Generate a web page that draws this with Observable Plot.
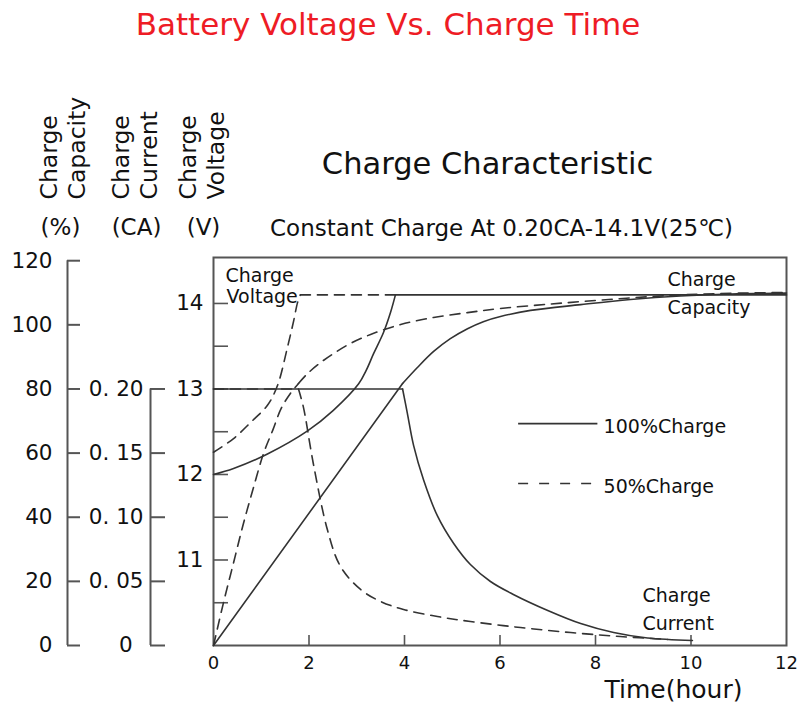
<!DOCTYPE html>
<html>
<head>
<meta charset="utf-8">
<script src="https://cdn.jsdelivr.net/npm/d3@7"></script>
<script src="https://cdn.jsdelivr.net/npm/@observablehq/plot@0.6"></script>
<style>
  body { margin: 0; background: #fff; font-family: "DejaVu Sans", sans-serif; }
  #title { width: 806px; height: 50px; line-height: 48px; text-align: center; font-size: 31px;
           color: #ee1c25; padding-right: 30px; box-sizing: border-box; white-space: nowrap; }
  #chart svg { overflow: visible; display: block; }
</style>
</head>
<body>
<div id="title">Battery Voltage Vs. Charge Time</div>
<div id="chart"></div>
<script>
// ---------- tick values / labels ----------
const hourTicks = [0, 2, 4, 6, 8, 10, 12];
const innerHourTicks = [2, 4, 6, 8, 10];
const capacityTicks = [0, 20, 40, 60, 80, 100, 120];
const currentTicks = [0, 0.05, 0.10, 0.15, 0.20];
const currentTickLabels = ["0\u2002", "0. 05", "0. 10", "0. 15", "0. 20"];
const voltageTicks = [10.5, 11, 11.5, 12, 12.5, 13, 13.5, 14];
const voltageTickLabels = [11, 12, 13, 14];

// ---------- series: [hour, value] ----------
// Charge voltage (V)
const voltage100 = [[0, 12.0], [0.42, 12.07], [1.13, 12.24], [1.97, 12.51], [2.51, 12.75], [3.04, 13.06], [3.2, 13.22], [3.35, 13.41], [3.56, 13.66], [3.71, 13.9], [3.81, 14.1]];
const voltage100Float = [[3.81, 14.1], [12, 14.1]];
const voltage50 = [[0, 12.26], [0.42, 12.42], [0.78, 12.61], [1.13, 12.81], [1.34, 13.04], [1.55, 13.49], [1.68, 13.8], [1.76, 14.01], [1.82, 14.1]];
const voltage50Float = [[1.82, 14.1], [3.81, 14.1]];
// Charge current (CA)
const current100CC = [[0, 0.2], [3.96, 0.2]];
const current100 = [[3.96, 0.2], [4.06, 0.181], [4.19, 0.156], [4.4, 0.129], [4.69, 0.101], [5.03, 0.0795], [5.38, 0.0631], [5.8, 0.0499], [6.28, 0.0398], [7.0, 0.0273], [7.69, 0.0171], [8.38, 0.0101], [9.09, 0.0058], [10.03, 0.0039]];
const current50CC = [[0, 0.2], [1.78, 0.2]];
const current50 = [[1.78, 0.2], [1.885, 0.1855], [2.09, 0.1419], [2.39, 0.0896], [2.66, 0.0616], [3.08, 0.0437], [3.5, 0.0343], [3.98, 0.0281], [4.69, 0.0226], [5.38, 0.0187], [6.43, 0.014], [7.48, 0.0101], [8.52, 0.007], [9.51, 0.0047]];
// Charge capacity (%)
const capacity100CC = [[0, 0], [3.96, 81.7]];
const capacity100 = [[3.96, 81.7], [4.27, 86.7], [4.61, 91.7], [4.96, 95.7], [5.32, 98.8], [5.65, 101.0], [6.01, 102.6], [6.64, 104.5], [7.69, 106.3], [8.73, 107.9], [9.78, 109.0], [10.83, 109.6], [12, 109.9]];
const capacity50CC = [[0, 0], [0.21, 13.4], [0.42, 25.8], [0.63, 38.2], [0.84, 49.4], [1.05, 60.0], [1.24, 67.1], [1.42, 74.0], [1.61, 78.6], [1.78, 81.7]];
const capacity50 = [[1.78, 81.7], [1.97, 84.8], [2.24, 88.2], [2.51, 91.0], [2.87, 94.2], [3.29, 97.0], [3.92, 100.1], [4.61, 102.3], [5.32, 103.8], [6.01, 105.1], [7.06, 106.5], [8.11, 107.7], [9.15, 108.8], [10.2, 109.6], [12, 110.1]];

// legend
const legendLabels = ["100%Charge", "50%Charge"];
const legendRowY = [69.2, 50.5];      // in the shared (capacity %) y units
const legendX = [6.39, 8.05, 8.17];   // line start, line end, text start (hours)

// ---------- shared y scale: capacity % units ----------
const vToY = v => (v - 10) * 120 / 4.5;   // 10 V .. 14.5 V  -> 0 .. 120
const aToY = a => a * 400;                // 0 .. 0.30 CA    -> 0 .. 120
const yToV = y => 10 + y * 4.5 / 120;

const INK = "#333";
const AX = "#555";
const DASH = "10,7";
const curve = (data, f, dashed) => Plot.line(data, {
  x: d => d[0], y: d => f(d[1]), stroke: INK, strokeWidth: 1.6,
  strokeDasharray: dashed ? DASH : undefined, curve: "catmull-rom"
});
const ident = c => c;
const label = (s, o) => Plot.text([s], {text: d => d, fill: "#111", ...o});

const chart = Plot.plot({
  width: 806, height: 658,
  marginLeft: 213, marginRight: 20, marginTop: 207, marginBottom: 63,
  x: {domain: [0, 12]},
  y: {domain: [0, 121]},
  style: {fontFamily: "DejaVu Sans", color: "#111", background: "#fff"},
  marks: [
    Plot.frame({stroke: AX, strokeWidth: 2}),
    // x axis
    Plot.axisX({ticks: hourTicks, tickSize: 0, tickPadding: 11, fontSize: 18, label: null}),
    Plot.axisX({ticks: innerHourTicks, tickSize: 10, dy: -10, text: null, stroke: AX, strokeWidth: 1.6, label: null}),
    // voltage axis (frame left)
    Plot.axisY({ticks: voltageTicks.map(vToY), tickSize: 15, dx: 15, text: null, stroke: AX, strokeWidth: 1.6, label: null}),
    Plot.axisY({ticks: voltageTickLabels.map(vToY), tickSize: 0, tickPadding: 10, fontSize: 21.5,
                tickFormat: d => String(Math.round(yToV(d))), label: null}),
    // current axis
    Plot.ruleX([0], {y1: 0, y2: aToY(currentTicks[currentTicks.length - 1]), dx: -63, stroke: AX, strokeWidth: 2}),
    Plot.axisY({ticks: currentTicks.map(aToY), tickSize: 15, tickPadding: 7, dx: -48, fontSize: 21.5, stroke: AX, strokeWidth: 2,
                tickFormat: d => currentTickLabels[currentTicks.findIndex(c => Math.abs(aToY(c) - d) < 1e-6)], label: null}),
    // capacity axis
    Plot.ruleX([0], {y1: 0, y2: capacityTicks[capacityTicks.length - 1], dx: -146, stroke: AX, strokeWidth: 2}),
    Plot.axisY({ticks: capacityTicks, tickSize: 13, tickPadding: 15, dx: -133, fontSize: 21.5, stroke: AX, strokeWidth: 2, label: null}),

    // curves
    curve(voltage100, vToY, false),
    curve(voltage100Float, vToY, false),
    curve(voltage50, vToY, true),
    curve(voltage50Float, vToY, true),
    curve(current100CC, aToY, false),
    curve(current100, aToY, false),
    curve(current50CC, aToY, true),
    curve(current50, aToY, true),
    curve(capacity100CC, ident, false),
    curve(capacity100, ident, false),
    curve(capacity50CC, ident, true),
    curve(capacity50, ident, true),

    // legend
    Plot.ruleY([legendRowY[0]], {x1: legendX[0], x2: legendX[1], stroke: INK, strokeWidth: 1.6}),
    Plot.ruleY([legendRowY[1]], {x1: legendX[0], x2: legendX[1], stroke: INK, strokeWidth: 1.6, strokeDasharray: "10,11"}),
    Plot.text([0, 1], {x: legendX[2], y: i => legendRowY[i], text: i => legendLabels[i], textAnchor: "start",
                       fontSize: 19, dy: 3, fill: "#111"}),

    // in-plot annotations
    label("Charge", {frameAnchor: "top-left", dx: 12, dy: 24, textAnchor: "start", lineAnchor: "bottom", fontSize: 19}),
    label("Voltage", {frameAnchor: "top-left", dx: 13, dy: 45, textAnchor: "start", lineAnchor: "bottom", fontSize: 19}),
    label("Charge", {frameAnchor: "top-right", dx: -119, dy: 28, textAnchor: "start", lineAnchor: "bottom", fontSize: 19}),
    label("Capacity", {frameAnchor: "top-right", dx: -119, dy: 56, textAnchor: "start", lineAnchor: "bottom", fontSize: 19}),
    label("Charge", {frameAnchor: "bottom-right", dx: -144, dy: -44, textAnchor: "start", lineAnchor: "bottom", fontSize: 19}),
    label("Current", {frameAnchor: "bottom-right", dx: -144, dy: -16, textAnchor: "start", lineAnchor: "bottom", fontSize: 19}),

    // x title
    label("Time(hour)", {frameAnchor: "bottom-right", dx: -113, dy: 52, textAnchor: "middle", lineAnchor: "bottom", fontSize: 25}),

    // headings
    label("Charge Characteristic", {frameAnchor: "top-left", dx: 274, dy: -84, textAnchor: "middle", lineAnchor: "bottom", fontSize: 30.5}),
    label("Constant Charge At 0.20CA-14.1V(25℃)", {frameAnchor: "top-left", dx: 288, dy: -22, textAnchor: "middle", lineAnchor: "bottom", fontSize: 23}),

    // rotated axis headings
    label("Charge", {frameAnchor: "top-left", dx: -156.5, dy: -58, rotate: -90, textAnchor: "start", lineAnchor: "bottom", fontSize: 23.5}),
    label("Capacity", {frameAnchor: "top-left", dx: -128.5, dy: -58, rotate: -90, textAnchor: "start", lineAnchor: "bottom", fontSize: 23.5}),
    label("Charge", {frameAnchor: "top-left", dx: -85, dy: -58, rotate: -90, textAnchor: "start", lineAnchor: "bottom", fontSize: 23.5}),
    label("Current", {frameAnchor: "top-left", dx: -57, dy: -58, rotate: -90, textAnchor: "start", lineAnchor: "bottom", fontSize: 23.5}),
    label("Charge", {frameAnchor: "top-left", dx: -18, dy: -58, rotate: -90, textAnchor: "start", lineAnchor: "bottom", fontSize: 23.5}),
    label("Voltage", {frameAnchor: "top-left", dx: 10, dy: -58, rotate: -90, textAnchor: "start", lineAnchor: "bottom", fontSize: 23.5}),
    label("(%)", {frameAnchor: "top-left", dx: -153, dy: -23, textAnchor: "middle", lineAnchor: "bottom", fontSize: 23}),
    label("(CA)", {frameAnchor: "top-left", dx: -77, dy: -23, textAnchor: "middle", lineAnchor: "bottom", fontSize: 23}),
    label("(V)", {frameAnchor: "top-left", dx: -10, dy: -23, textAnchor: "middle", lineAnchor: "bottom", fontSize: 23})
  ]
});
document.getElementById("chart").appendChild(chart);
</script>
</body>
</html>
